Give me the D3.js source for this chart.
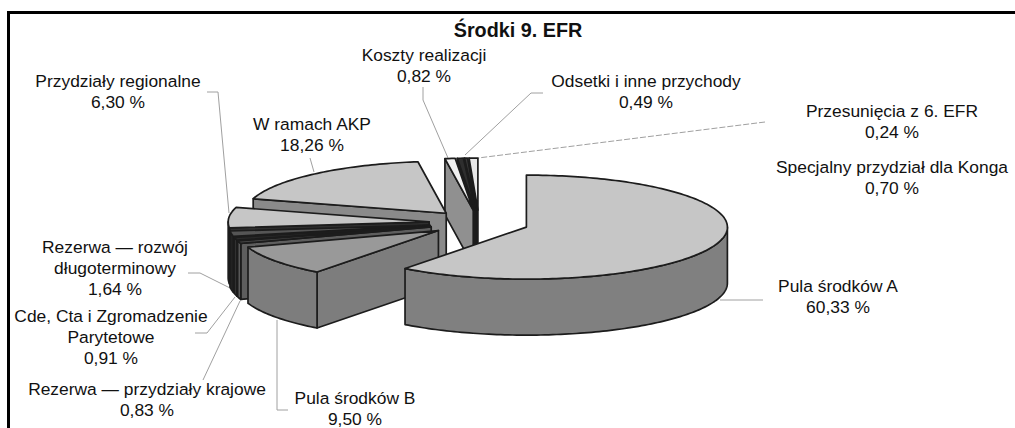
<!DOCTYPE html>
<html><head><meta charset="utf-8">
<script src="https://cdn.jsdelivr.net/npm/d3@7"></script>
<style>html,body{margin:0;background:#fff}svg{display:block}text{font-family:"Liberation Sans",Arial,sans-serif;fill:#111}</style>
</head><body><svg id="c" width="1015" height="428"></svg>
<script>
const categories=["Pula środków A","Pula środków B","Rezerwa — przydziały krajowe","Cde, Cta i Zgromadzenie Parytetowe","Rezerwa — rozwój długoterminowy","Przydziały regionalne","W ramach AKP","Koszty realizacji","Odsetki i inne przychody","Przesunięcia z 6. EFR","Specjalny przydział dla Konga"];
const values=[60.33,9.50,0.83,0.91,1.64,6.30,18.26,0.82,0.49,0.24,0.70];
const title="Środki 9. EFR";
// drawing order, back to front (indices into categories)
const paintOrder=[10,9,8,7,6,5,4,3,2,1,0];
const topColors=["#c6c6c6","#999999","#4a4a4a","#2a2a2a","#555555","#c6c6c6","#c6c6c6","#f0f0f0","#2e2e2e","#3a3a3a","#e8e8e8"];
const wallColors=["#808080","#7d7d7d","#5e5e5e","#333333","#222222","#2e2e2e","#8a8a8a","#909090","#222222","#222222","#222222"];
const labelLines=[["Pula środków A"],["Pula środków B"],["Rezerwa — przydziały krajowe"],["Cde, Cta i Zgromadzenie","Parytetowe"],["Rezerwa — rozwój","długoterminowy"],["Przydziały regionalne"],["W ramach AKP"],["Koszty realizacji"],["Odsetki i inne przychody"],["Przesunięcia z 6. EFR"],["Specjalny przydział dla Konga"]];
const labelPos=[[838,292],[355,404],[147,395],[111,322],[115,253],[118,87],[312,130],[424,61],[646,87],[892,117],[892,173]];
const leaders=[[[763,300],[720,300]],[[288,410],[277,410],[277,320]],[[203,380],[240,301]],[[195,333],[207,333],[235,297]],[[188,273],[200,273],[230,288]],[[207,92],[218,92],[229,213]],[[310,158],[314,172]],[[423,87],[423,100],[448,158]],[[543,93],[531,93],[465,155]],[[765,122],[478,158]],[]];

const svg=d3.select("#c");
const cx=479,cy=223,rx=201,ry=52,depth=56,explode=50;
const sx=d3.scaleLinear().domain([-1,1]).range([cx-rx,cx+rx]);
const sy=d3.scaleLinear().domain([-1,1]).range([cy+ry,cy-ry]);
const pie=d3.pie().sort(null).value(d=>d)(values);
const line=d3.line();

svg.append("path").attr("d","M8.5,428V12.5H1015").attr("fill","none").attr("stroke","#000").attr("stroke-width",3);

svg.append("g").attr("fill","none").attr("stroke","#a0a0a0").attr("stroke-width",1)
 .selectAll("path").data(leaders.filter(l=>l.length)).join("path").attr("d",d=>line(d))
 .attr("stroke-dasharray",(d,i)=>i===9?"6,2":null);

const unit=a=>[Math.sin(a),Math.cos(a)];
pie.forEach((p,i)=>{p.mid=(p.startAngle+p.endAngle)/2;});
const gPie=svg.append("g").attr("stroke","#1c1c1c").attr("stroke-width",1.7).attr("stroke-linejoin","round");
paintOrder.forEach(i=>{
  const p=pie[i];
  const [mx,my]=unit(p.mid);
  const off=explode/rx;
  const pt=(a,r=1,dz=0)=>{const [u,v]=unit(a);return [sx(off*mx+r*u),sy(off*my+r*v)+dz];};
  const arc=(a0,a1,dz=0)=>{const n=Math.max(2,Math.ceil(Math.abs(a1-a0)/0.02));return d3.range(n+1).map(k=>pt(a0+(a1-a0)*k/n,1,dz));};
  const g=gPie.append("g");
  const wall=a=>g.append("path").attr("d",line([pt(a,0),pt(a),pt(a,1,depth),pt(a,0,depth)])+"Z").attr("fill",wallColors[i]);
  if(Math.sin(p.endAngle)>0.001) wall(p.endAngle);
  if(Math.sin(p.startAngle)<-0.001) wall(p.startAngle);
  const a0=Math.max(p.startAngle,Math.PI/2),a1=Math.min(p.endAngle,Math.PI*1.5);
  if(a1>a0){
    g.append("path").attr("d",line(arc(a0,a1).concat(arc(a1,a0,depth)))+"Z").attr("fill",wallColors[i]);
  }
  g.append("path").attr("d",line([pt(0,0)].concat(arc(p.startAngle,p.endAngle)))+"Z").attr("fill",topColors[i]);
});

const fmt=v=>v.toFixed(2).replace(".",",")+" %";
const tg=svg.append("g").attr("font-size",17.4).attr("text-anchor","middle");
categories.forEach((c,i)=>{
  const t=tg.append("text").attr("x",labelPos[i][0]).attr("y",labelPos[i][1]);
  labelLines[i].concat([fmt(values[i])]).forEach((s,k)=>t.append("tspan").attr("x",labelPos[i][0]).attr("dy",k?21:0).text(s));
});
svg.append("text").attr("x",518).attr("y",37).attr("text-anchor","middle").attr("font-size",19.8).attr("font-weight","bold").text(title);
</script></body></html>
